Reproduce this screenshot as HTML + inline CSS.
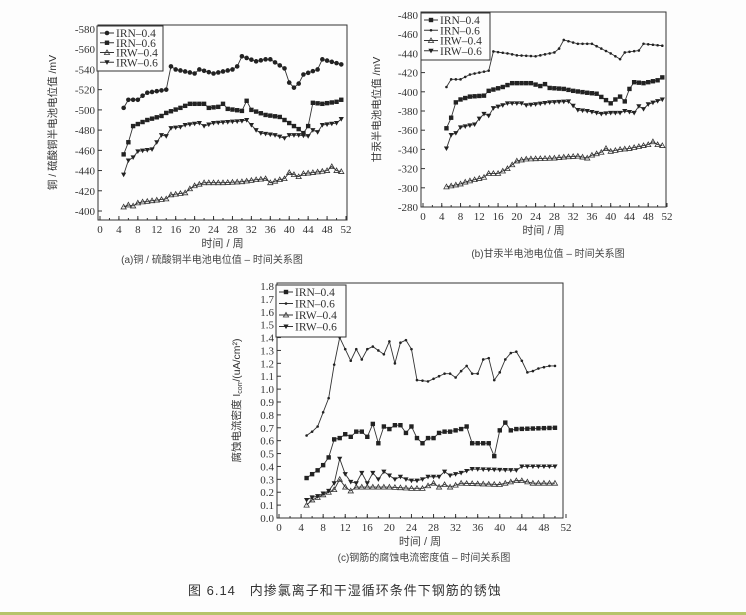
<!DOCTYPE html>
<html><head><meta charset="utf-8"><style>
html,body{margin:0;padding:0;background:#fdfdfd;}
#c{position:relative;width:746px;height:615px;overflow:hidden;background:#fdfdfd;}
svg{position:absolute;left:0;top:0;}
</style></head><body><div id="c">
<svg id="s" width="746" height="615" viewBox="0 0 746 615" xmlns="http://www.w3.org/2000/svg" font-family="Liberation Serif, Noto Serif CJK SC, serif"></svg>
</div>
<script>
const S=document.getElementById('s');let h='';
function interp(pts){const o=[];for(let i=0;i<pts.length-1;i++){const [x0,y0]=pts[i],[x1,y1]=pts[i+1];for(let x=x0;x<x1;x++)o.push([x,y0+(y1-y0)*(x-x0)/(x1-x0)]);}o.push(pts[pts.length-1]);return o;}
function mk(t,x,y){
 if(t=='c')return `<circle cx="${x}" cy="${y}" r="2.3" fill="#222"/>`;
 if(t=='s')return `<rect x="${x-2.2}" y="${y-2.2}" width="4.4" height="4.4" fill="#222"/>`;
 if(t=='d')return `<circle cx="${x}" cy="${y}" r="1.3" fill="#222"/>`;
 if(t=='t')return `<polygon points="${x},${y-2.6} ${x-2.6},${y+2} ${x+2.6},${y+2}" fill="none" stroke="#333" stroke-width="0.8"/>`;
 if(t=='v')return `<polygon points="${x},${y+2.6} ${x-2.6},${y-2} ${x+2.6},${y-2}" fill="#222"/>`;}
function chart(o){
 const X=v=>o.x0+(o.x1-o.x0)*v/52,Y=v=>o.y0+(o.y1-o.y0)*(v-o.v0)/(o.v1-o.v0);
 h+=`<rect x="${o.bl}" y="${o.bt}" width="${o.br-o.bl}" height="${o.bb-o.bt}" fill="none" stroke="#333" stroke-width="1"/>`;
 for(let i=0;i<=52;i+=4){h+=`<line x1="${X(i)}" y1="${o.bb}" x2="${X(i)}" y2="${o.bb-4}" stroke="#333"/><text x="${X(i)}" y="${o.bb+13}" font-size="11" text-anchor="middle" fill="#333">${i}</text>`;}
 for(let i=0;i<=52;i+=2)h+=`<line x1="${X(i)}" y1="${o.bb}" x2="${X(i)}" y2="${o.bb-2}" stroke="#333"/>`;
 for(const v of o.ticks){h+=`<line x1="${o.bl}" y1="${Y(v)}" x2="${o.bl+4}" y2="${Y(v)}" stroke="#333"/><text x="${o.bl-3}" y="${Y(v)+4}" font-size="11" text-anchor="end" fill="#333">${o.fmt(v)}</text>`;}
 for(const s of o.series){const p=interp(s.p);h+=`<polyline points="${p.map(q=>X(q[0])+','+Y(q[1])).join(' ')}" fill="none" stroke="#333" stroke-width="0.9"/>`;for(const q of p)h+=mk(s.m,X(q[0]),Y(q[1]));}
 const L=o.leg;h+=`<rect x="${L[0]}" y="${L[1]}" width="${L[2]}" height="${L[3]}" fill="#fdfdfd" stroke="#333"/>`;
 o.series.forEach((s,i)=>{const yy=L[1]+7+i*(L[3]-6)/4;h+=`<line x1="${L[0]+3}" y1="${yy}" x2="${L[0]+17}" y2="${yy}" stroke="#333"/>`+mk(s.m,L[0]+10,yy)+`<text x="${L[0]+19}" y="${yy+4}" font-size="11.5" fill="#333">${s.n}</text>`;});
 h+=`<text x="${(o.bl+o.br)/2}" y="${o.bb+27}" font-size="11" text-anchor="middle" fill="#444" font-family="Liberation Sans, Noto Sans CJK SC, sans-serif">时间 / 周</text>`;
 h+=`<text x="${o.cap[0]}" y="${o.cap[1]}" font-size="10" text-anchor="middle" fill="#444" font-family="Liberation Sans, Noto Sans CJK SC, sans-serif">${o.cap[2]}</text>`;
 h+=`<text transform="translate(${o.yl[0]},${(o.bt+o.bb)/2}) rotate(-90)" font-size="10.5" text-anchor="middle" fill="#333" font-family="Liberation Sans, Noto Sans CJK SC, sans-serif">${o.yl[1]}</text>`;
}
chart({x0:100,x1:346,y0:29,y1:211,v0:-580,v1:-400,bl:98,br:347,bt:25,bb:220,
 ticks:[-580,-560,-540,-520,-500,-480,-460,-440,-420,-400],fmt:v=>v,leg:[97,26,66,45],
 cap:[212,263,'(a)铜 / 硫酸铜半电池电位值 – 时间关系图'],yl:[56,'铜 / 硫酸铜半电池电位值 /mV'],
 series:[
 {n:'IRN–0.4',m:'c',p:[[5,-502],[6,-510],[8,-510],[9,-514],[10,-517],[14,-520],[15,-543],[16,-540],[20,-536],[21,-540],[24,-536],[28,-540],[29,-543],[30,-553],[33,-548],[35,-550],[36,-550],[39,-541],[40,-527],[41,-522],[42,-526],[43,-535],[46,-540],[47,-550],[51,-545]]},
 {n:'IRN–0.6',m:'s',p:[[5,-456],[6,-468],[7,-484],[8,-486],[10,-490],[13,-494],[14,-497],[17,-502],[19,-506],[22,-506],[23,-502],[25,-503],[26,-506],[27,-501],[30,-499],[31,-509],[32,-500],[35,-495],[38,-493],[40,-487],[42,-481],[43,-477],[44,-484],[45,-507],[47,-506],[50,-508],[51,-510]]},
 {n:'IRW–0.4',m:'t',p:[[5,-404],[6,-406],[7,-405],[8,-408],[9,-409],[14,-412],[15,-416],[18,-418],[19,-422],[20,-425],[22,-428],[26,-428],[30,-429],[33,-431],[35,-432],[36,-428],[38,-431],[39,-432],[40,-438],[42,-434],[43,-437],[45,-438],[48,-440],[49,-444],[50,-440],[51,-439]]},
 {n:'IRW–0.6',m:'v',p:[[5,-436],[6,-450],[7,-453],[8,-459],[11,-461],[12,-468],[13,-475],[14,-474],[15,-482],[17,-483],[18,-485],[21,-487],[22,-484],[24,-487],[30,-489],[31,-490],[33,-480],[34,-477],[37,-475],[39,-472],[40,-475],[42,-475],[44,-474],[45,-480],[46,-478],[47,-485],[50,-487],[51,-491]]}]});
chart({x0:423,x1:667,y0:15,y1:207,v0:-480,v1:-280,bl:421,br:666,bt:12,bb:207,
 ticks:[-480,-460,-440,-420,-400,-380,-360,-340,-320,-300,-280],fmt:v=>v,leg:[421,13,69,47],
 cap:[548,257,'(b)甘汞半电池电位值 – 时间关系图'],yl:[380,'甘汞半电池电位值 /mV'],
 series:[
 {n:'IRN–0.4',m:'s',p:[[5,-362],[6,-373],[7,-389],[8,-392],[10,-395],[13,-396],[14,-401],[17,-405],[19,-409],[23,-409],[25,-406],[26,-408],[27,-404],[30,-403],[32,-401],[35,-399],[37,-398],[40,-388],[41,-392],[42,-395],[43,-390],[44,-403],[45,-410],[47,-409],[50,-412],[51,-415]]},
 {n:'IRN–0.6',m:'d',p:[[5,-405],[6,-413],[8,-413],[10,-418],[14,-422],[15,-442],[18,-440],[20,-438],[24,-437],[28,-441],[29,-445],[30,-454],[33,-450],[36,-450],[40,-440],[42,-434],[43,-441],[46,-443],[47,-450],[51,-448]]},
 {n:'IRW–0.4',m:'t',p:[[5,-301],[6,-302],[8,-304],[9,-306],[13,-311],[14,-315],[16,-315],[18,-320],[20,-328],[22,-330],[28,-331],[30,-332],[33,-333],[35,-331],[36,-334],[38,-337],[39,-341],[40,-338],[42,-340],[44,-341],[48,-345],[49,-348],[50,-345],[51,-344]]},
 {n:'IRW–0.6',m:'v',p:[[5,-341],[6,-355],[7,-357],[8,-363],[11,-366],[12,-372],[13,-377],[14,-375],[15,-383],[17,-386],[18,-388],[21,-388],[22,-386],[24,-387],[27,-389],[31,-390],[33,-381],[35,-380],[38,-377],[40,-378],[42,-378],[43,-380],[45,-378],[46,-385],[47,-382],[48,-387],[51,-392]]}]});
chart({x0:279,x1:566,y0:286,y1:518,v0:1.8,v1:0,bl:277,br:563,bt:283,bb:518,
 ticks:[1.8,1.7,1.6,1.5,1.4,1.3,1.2,1.1,1.0,0.9,0.8,0.7,0.6,0.5,0.4,0.3,0.2,0.1,0.0],fmt:v=>v.toFixed(1),leg:[276,285,70,52],
 cap:[424,561,'(c)钢筋的腐蚀电流密度值 – 时间关系图'],yl:[240,'腐蚀电流密度 I<tspan font-size="7" dy="2">corr</tspan><tspan dy="-2">/(uA/cm²)</tspan>'],
 series:[
 {n:'IRN–0.4',m:'s',p:[[5,.31],[6,.34],[7,.37],[8,.41],[9,.47],[10,.61],[11,.62],[12,.65],[13,.63],[14,.67],[15,.67],[16,.63],[17,.73],[18,.58],[19,.71],[20,.69],[21,.72],[22,.72],[23,.66],[24,.71],[25,.62],[26,.58],[27,.62],[28,.62],[29,.66],[30,.67],[31,.67],[32,.68],[33,.69],[34,.71],[35,.58],[38,.58],[39,.48],[40,.68],[41,.74],[42,.68],[43,.69],[50,.70]]},
 {n:'IRN–0.6',m:'d',p:[[5,.64],[6,.67],[7,.71],[8,.82],[9,.93],[10,1.19],[11,1.40],[12,1.31],[13,1.22],[14,1.31],[15,1.23],[16,1.31],[17,1.33],[18,1.30],[19,1.27],[20,1.37],[21,1.20],[22,1.36],[23,1.38],[24,1.31],[25,1.07],[27,1.06],[28,1.08],[29,1.10],[30,1.12],[31,1.12],[32,1.09],[33,1.14],[34,1.18],[35,1.12],[36,1.12],[37,1.23],[38,1.24],[39,1.07],[40,1.13],[41,1.23],[42,1.28],[43,1.29],[44,1.22],[45,1.13],[46,1.14],[47,1.16],[49,1.18],[50,1.18]]},
 {n:'IRW–0.4',m:'t',p:[[5,.10],[6,.14],[7,.16],[8,.18],[9,.20],[10,.22],[11,.30],[12,.24],[13,.21],[14,.24],[15,.24],[20,.24],[24,.23],[26,.23],[27,.25],[28,.27],[29,.24],[30,.26],[31,.24],[33,.27],[40,.26],[43,.29],[44,.29],[46,.27],[50,.27]]},
 {n:'IRW–0.6',m:'v',p:[[5,.14],[6,.16],[7,.17],[8,.19],[9,.21],[10,.27],[11,.46],[12,.34],[13,.28],[14,.27],[15,.35],[16,.27],[17,.35],[18,.30],[19,.36],[20,.33],[21,.30],[22,.32],[23,.30],[24,.29],[25,.29],[26,.30],[27,.32],[29,.32],[30,.36],[31,.33],[32,.34],[33,.35],[35,.38],[43,.37],[44,.40],[50,.40]]}]});
h+=`<text x="188" y="595" font-size="13" fill="#333" font-family="Liberation Sans, Noto Sans CJK SC, sans-serif" letter-spacing="1">图 6.14&#160;&#160;&#160;内掺氯离子和干湿循环条件下钢筋的锈蚀</text>`;
h+=`<rect x="0" y="612" width="746" height="3" fill="#b5c46a"/>`;
S.innerHTML=h;
</script></body></html>
